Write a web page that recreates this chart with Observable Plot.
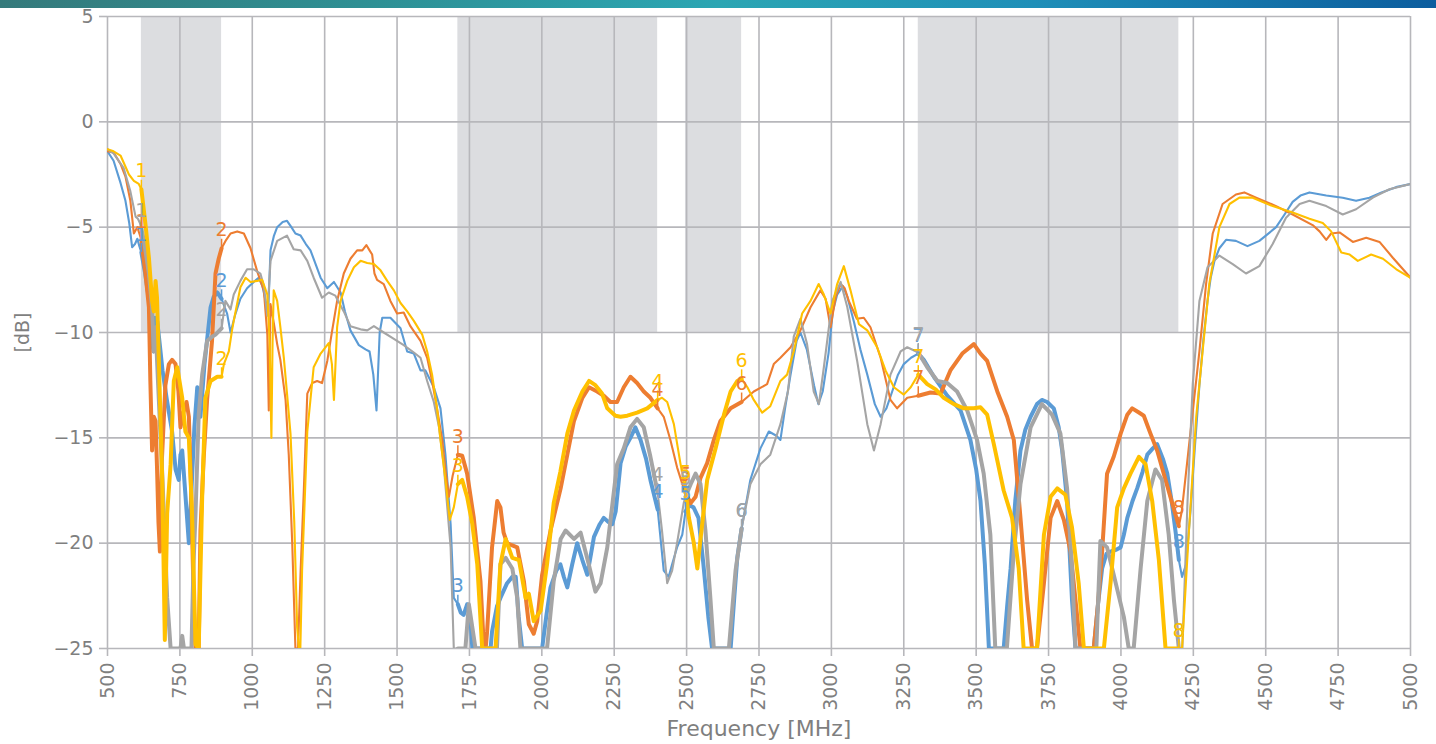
<!DOCTYPE html>
<html><head><meta charset="utf-8">
<script src="https://cdn.jsdelivr.net/npm/d3@7"></script>
<script src="https://cdn.jsdelivr.net/npm/@observablehq/plot@0.6"></script>
<style>
body{margin:0;background:#fff;}
#chart{position:absolute;left:0;top:0;}
#bar{position:absolute;left:0;top:0;width:1436px;height:8px;background:linear-gradient(90deg,#357a7b 0%,#2e8f93 25%,#2ba6b3 50%,#1f8fb8 72%,#0c5d9e 100%);}
</style>
</head><body>
<div id="chart"></div><div id="bar"></div>
<script>
// Frequency [MHz], level [dB]
const blue = [[500,-1.4],[521,-1.85],[545,-2.9],[562,-3.75],[575,-4.8],[585,-5.95],[595,-5.8],[603,-5.55],[610,-5.9],[617,-6.2],[630,-7.2],[645,-8.6],[652,-10.2],[659,-10.9],[664,-9.3],[672,-9.5],[680,-10.5],[690,-11.8],[705,-13.2],[723,-14.7],[735,-16.5],[746,-17.0],[752,-15.8],[758,-15.6],[768,-17.5],[781,-20.0],[790,-17.5],[800,-14.5],[810,-12.6],[821,-14.0],[835,-11.5],[856,-8.8],[867,-8.3],[879,-8.1],[894,-8.4],[913,-9.1],[925,-10.0],[940,-9.2],[959,-8.4],[982,-7.9],[1005,-7.6],[1022,-7.4],[1035,-7.8],[1046,-8.5],[1055,-9.0],[1063,-6.1],[1075,-5.4],[1086,-5.0],[1105,-4.75],[1120,-4.7],[1135,-5.0],[1149,-5.3],[1167,-5.4],[1185,-5.8],[1201,-6.1],[1220,-6.8],[1236,-7.4],[1259,-7.9],[1282,-7.6],[1305,-8.1],[1320,-9.0],[1339,-9.9],[1368,-10.6],[1391,-10.8],[1405,-10.9],[1418,-12.0],[1429,-13.7],[1440,-10.0],[1449,-9.3],[1477,-9.3],[1512,-9.8],[1535,-10.9],[1558,-11.0],[1581,-11.8],[1598,-11.8],[1627,-12.6],[1650,-13.6],[1667,-15.8],[1685,-19.1],[1696,-22.6],[1710,-22.9],[1720,-23.3],[1730,-23.4],[1742,-22.9],[1754,-23.7],[1760,-25],[1823,-25],[1828,-24.2],[1845,-23.0],[1857,-22.6],[1880,-21.9],[1898,-21.6],[1910,-21.6],[1920,-23.5],[1932,-25],[2001,-25],[2015,-23.5],[2030,-22.1],[2050,-21.3],[2064,-21.0],[2076,-21.6],[2088,-22.1],[2105,-21.0],[2122,-20.0],[2140,-20.8],[2157,-21.5],[2170,-20.5],[2180,-19.7],[2200,-19.1],[2214,-18.8],[2230,-19.0],[2243,-19.1],[2255,-18.5],[2272,-16.2],[2290,-15.4],[2306,-15.0],[2323,-14.5],[2341,-15.1],[2360,-16.0],[2375,-17.0],[2400,-18.4],[2421,-21.3],[2438,-21.6],[2450,-21.0],[2467,-20.2],[2485,-19.6],[2496,-18.5],[2510,-18.2],[2524,-18.3],[2541,-18.8],[2558,-21.0],[2575,-23.5],[2588,-25],[2652,-25],[2665,-22.5],[2675,-20.7],[2690,-19.3],[2720,-17.0],[2755,-15.5],[2784,-14.7],[2810,-14.9],[2824,-15.1],[2840,-13.6],[2859,-12.0],[2880,-10.4],[2893,-10.0],[2915,-10.8],[2940,-12.5],[2955,-13.4],[2970,-12.8],[2990,-11.0],[3005,-9.0],[3020,-8.2],[3040,-7.8],[3055,-8.3],[3078,-9.5],[3100,-10.8],[3124,-12.0],[3150,-13.4],[3170,-14.0],[3190,-13.6],[3210,-12.8],[3230,-12.0],[3250,-11.5],[3275,-11.2],[3300,-11.0],[3319,-11.3],[3354,-12.1],[3400,-13.0],[3446,-13.7],[3480,-15.1],[3500,-16.5],[3515,-18.0],[3530,-21.0],[3544,-25],[3595,-25],[3607,-23.0],[3619,-21.2],[3635,-18.0],[3653,-15.6],[3670,-14.6],[3688,-14.0],[3710,-13.4],[3727,-13.2],[3745,-13.3],[3768,-13.6],[3785,-14.5],[3797,-15.6],[3814,-18.0],[3831,-22.7],[3843,-25],[3906,-25],[3920,-23.0],[3935,-21.2],[3950,-20.5],[3964,-20.4],[3985,-20.3],[3999,-20.2],[4010,-19.6],[4022,-18.8],[4040,-18.0],[4056,-17.4],[4075,-16.6],[4091,-15.8],[4110,-15.5],[4125,-15.3],[4145,-16.0],[4160,-16.7],[4175,-18.0],[4190,-19.6],[4200,-20.8],[4211,-21.6],[4225,-21.0],[4240,-18.5],[4255,-15.5],[4271,-12.5],[4285,-10.3],[4299,-8.5],[4310,-7.4],[4323,-6.6],[4340,-6.0],[4363,-5.6],[4397,-5.65],[4437,-5.9],[4478,-5.65],[4536,-5.0],[4565,-4.4],[4593,-3.8],[4620,-3.5],[4651,-3.35],[4709,-3.5],[4766,-3.6],[4812,-3.75],[4858,-3.6],[4900,-3.35],[4950,-3.1],[5000,-2.95]];

const orange = [[500,-1.4],[521,-1.45],[545,-2.0],[562,-2.6],[579,-3.75],[591,-5.3],[603,-5.0],[610,-5.3],[617,-5.6],[631,-7.2],[643,-8.8],[648,-12.3],[654,-15.6],[660,-14.0],[666,-14.2],[671,-16.4],[676,-19.0],[681,-20.4],[688,-16.0],[700,-12.5],[712,-11.5],[723,-11.3],[735,-11.5],[745,-12.8],[752,-14.5],[762,-13.8],[773,-13.3],[781,-14.0],[790,-18.0],[798,-23.0],[804,-25],[815,-25],[821,-19.4],[832,-16.0],[844,-13.2],[861,-10.4],[873,-7.2],[884,-6.5],[894,-6.0],[910,-5.6],[925,-5.3],[948,-5.2],[971,-5.3],[994,-6.0],[1017,-7.1],[1040,-8.0],[1052,-10.1],[1057,-13.7],[1063,-8.65],[1075,-9.6],[1086,-10.55],[1097,-11.3],[1115,-13.2],[1126,-15.8],[1138,-20.0],[1149,-25],[1158,-25],[1167,-21.3],[1178,-17.5],[1190,-12.9],[1207,-12.4],[1224,-12.3],[1241,-12.4],[1259,-11.35],[1276,-9.9],[1293,-8.5],[1316,-7.2],[1339,-6.5],[1362,-6.1],[1380,-6.1],[1394,-5.85],[1405,-6.1],[1414,-6.3],[1422,-7.2],[1431,-7.5],[1454,-7.7],[1477,-8.5],[1500,-9.1],[1523,-9.05],[1546,-9.7],[1581,-10.4],[1604,-11.2],[1621,-12.3],[1638,-13.6],[1656,-15.1],[1668,-16.6],[1679,-17.8],[1692,-16.8],[1710,-15.8],[1725,-15.85],[1742,-16.7],[1765,-18.8],[1788,-21.8],[1800,-25],[1806,-25],[1811,-24.2],[1828,-20.2],[1846,-18.0],[1857,-18.3],[1868,-19.5],[1880,-20.0],[1898,-20.1],[1915,-20.2],[1938,-21.8],[1955,-23.85],[1972,-24.3],[1984,-23.7],[2001,-21.5],[2030,-19.4],[2065,-17.4],[2088,-15.8],[2111,-14.2],[2140,-13.1],[2163,-12.6],[2191,-12.8],[2214,-13.0],[2237,-13.3],[2260,-13.3],[2283,-12.6],[2306,-12.1],[2329,-12.4],[2352,-12.8],[2375,-13.1],[2400,-13.6],[2421,-14.0],[2444,-15.1],[2467,-16.4],[2490,-17.4],[2496,-17.6],[2514,-18.1],[2531,-17.8],[2548,-16.9],[2571,-16.2],[2594,-15.1],[2617,-14.2],[2652,-13.6],[2690,-13.3],[2732,-12.8],[2778,-12.45],[2801,-11.5],[2824,-11.2],[2859,-10.7],[2893,-9.9],[2928,-8.8],[2962,-8.0],[2980,-8.4],[2997,-9.75],[3015,-8.3],[3032,-7.7],[3046,-7.9],[3060,-8.5],[3088,-9.35],[3112,-9.3],[3135,-9.75],[3170,-11.2],[3204,-13.2],[3227,-13.6],[3262,-13.1],[3300,-13.0],[3342,-12.85],[3377,-12.9],[3411,-11.8],[3452,-11.0],[3492,-10.55],[3515,-11.0],[3538,-11.35],[3573,-12.8],[3607,-14.0],[3630,-15.1],[3653,-18.8],[3676,-22.7],[3693,-25],[3710,-25],[3734,-21.9],[3757,-18.8],[3780,-18.0],[3803,-18.9],[3826,-20.4],[3849,-23.5],[3860,-25],[3906,-25],[3920,-23.0],[3935,-20.4],[3952,-16.7],[3975,-15.9],[3999,-14.8],[4022,-13.9],[4039,-13.6],[4062,-13.8],[4079,-13.95],[4102,-14.8],[4125,-15.6],[4154,-17.0],[4177,-18.1],[4200,-19.2],[4210,-18.5],[4230,-16.0],[4250,-13.5],[4271,-10.9],[4294,-7.7],[4317,-5.3],[4351,-3.9],[4397,-3.45],[4426,-3.35],[4467,-3.6],[4536,-4.0],[4593,-4.4],[4662,-4.9],[4686,-5.2],[4709,-5.6],[4726,-5.3],[4755,-5.25],[4801,-5.7],[4847,-5.5],[4893,-5.7],[4939,-6.45],[5000,-7.4]];

const gray = [[500,-1.3],[521,-1.5],[556,-2.2],[579,-3.3],[597,-4.5],[605,-4.6],[612,-4.8],[617,-5.1],[626,-5.65],[643,-7.2],[654,-8.8],[660,-10.9],[666,-9.75],[675,-12.5],[690,-17.0],[706,-22.6],[718,-25],[752,-25],[758,-24.4],[764,-25],[790,-25],[797,-21.0],[804,-18.6],[815,-13.9],[827,-12.0],[844,-10.4],[861,-10.2],[873,-10.1],[894,-9.8],[907,-8.5],[925,-8.9],[936,-8.2],[959,-7.55],[982,-7.0],[1005,-7.0],[1028,-7.2],[1040,-7.8],[1052,-9.2],[1063,-6.6],[1086,-5.65],[1120,-5.4],[1143,-6.05],[1167,-6.1],[1190,-6.6],[1212,-7.4],[1241,-8.35],[1264,-8.1],[1287,-8.25],[1316,-9.0],[1339,-9.7],[1374,-9.85],[1397,-9.9],[1420,-9.7],[1454,-10.0],[1489,-10.3],[1523,-10.6],[1558,-10.95],[1581,-11.2],[1604,-12.3],[1627,-13.3],[1645,-14.5],[1661,-16.25],[1685,-20.2],[1696,-25],[1710,-25],[1736,-25],[1748,-22.9],[1760,-24.0],[1771,-25],[1845,-25],[1857,-21.0],[1875,-20.7],[1898,-21.2],[1915,-22.6],[1926,-25],[2018,-25],[2041,-21.8],[2065,-19.8],[2082,-19.4],[2111,-19.8],[2134,-19.5],[2162,-21.0],[2185,-22.3],[2203,-21.9],[2226,-20.2],[2245,-18.0],[2260,-16.25],[2283,-15.5],[2306,-14.5],[2329,-14.1],[2352,-14.5],[2375,-15.9],[2400,-17.6],[2415,-19.4],[2433,-21.9],[2450,-21.3],[2467,-20.0],[2490,-18.1],[2496,-17.8],[2514,-17.2],[2531,-16.7],[2548,-17.2],[2565,-19.4],[2582,-22.6],[2594,-25],[2646,-25],[2669,-21.3],[2690,-19.3],[2720,-17.2],[2755,-16.25],[2789,-15.8],[2824,-14.35],[2850,-12.8],[2870,-10.2],[2893,-9.35],[2916,-10.55],[2939,-12.8],[2957,-13.4],[2974,-11.65],[3003,-8.5],[3032,-7.6],[3055,-8.8],[3089,-11.35],[3124,-14.35],[3147,-15.6],[3170,-14.35],[3204,-12.0],[3239,-10.9],[3262,-10.7],[3300,-10.95],[3331,-11.65],[3366,-12.3],[3400,-12.4],[3434,-12.8],[3469,-13.7],[3503,-15.1],[3526,-16.7],[3549,-19.6],[3566,-25],[3606,-25],[3630,-20.4],[3653,-17.2],[3688,-14.5],[3727,-13.4],[3762,-13.9],[3791,-14.8],[3814,-17.4],[3831,-21.2],[3843,-25],[3915,-25],[3929,-19.9],[3952,-20.2],[3975,-21.5],[4010,-23.5],[4027,-25],[4044,-25],[4068,-21.2],[4091,-18.0],[4119,-16.5],[4142,-17.0],[4165,-19.6],[4183,-22.7],[4200,-25],[4212,-25],[4230,-18.0],[4248,-12.45],[4271,-8.5],[4299,-6.9],[4340,-6.35],[4386,-6.75],[4432,-7.2],[4478,-6.85],[4524,-5.8],[4570,-4.55],[4617,-3.9],[4651,-3.75],[4709,-4.0],[4766,-4.4],[4812,-4.15],[4870,-3.6],[4927,-3.2],[5000,-2.95]];

const yellow = [[500,-1.3],[521,-1.4],[545,-1.6],[574,-2.5],[591,-2.8],[608,-2.95],[617,-3.2],[631,-4.85],[643,-6.45],[654,-8.5],[660,-9.0],[666,-7.55],[671,-8.35],[677,-11.2],[689,-17.0],[698,-24.6],[706,-18.6],[718,-16.25],[729,-12.3],[741,-11.65],[758,-13.1],[769,-14.7],[781,-15.0],[792,-18.6],[804,-24.8],[815,-25],[827,-17.8],[838,-13.1],[856,-12.3],[879,-12.1],[894,-12.1],[902,-11.5],[919,-10.9],[930,-9.9],[936,-9.45],[959,-7.85],[977,-7.4],[994,-7.6],[1017,-7.55],[1034,-7.5],[1052,-8.2],[1060,-10.5],[1066,-15.0],[1070,-10.5],[1074,-8.0],[1086,-8.5],[1097,-9.75],[1109,-11.2],[1120,-12.9],[1132,-14.8],[1145,-19.0],[1155,-24.0],[1161,-25],[1166,-25],[1172,-21.3],[1190,-14.7],[1212,-11.65],[1236,-11.0],[1264,-10.5],[1275,-11.5],[1282,-13.2],[1293,-9.75],[1305,-8.5],[1328,-7.55],[1351,-6.9],[1374,-6.6],[1397,-6.7],[1420,-6.75],[1443,-7.05],[1466,-7.55],[1489,-8.0],[1512,-8.6],[1535,-9.0],[1558,-9.45],[1587,-10.1],[1604,-10.9],[1621,-12.0],[1638,-13.6],[1650,-15.1],[1667,-17.0],[1682,-18.9],[1696,-18.3],[1710,-17.2],[1725,-17.0],[1742,-17.8],[1760,-19.1],[1777,-21.0],[1794,-25],[1840,-25],[1857,-21.0],[1875,-19.8],[1898,-20.7],[1921,-20.8],[1944,-22.6],[1955,-22.4],[1972,-23.7],[1996,-23.2],[2018,-21.0],[2041,-18.1],[2064,-16.6],[2088,-14.8],[2111,-13.7],[2140,-12.8],[2163,-12.3],[2185,-12.5],[2208,-12.9],[2226,-13.6],[2254,-13.95],[2272,-14.0],[2295,-13.95],[2329,-13.8],[2364,-13.6],[2400,-13.2],[2415,-13.1],[2433,-13.3],[2456,-14.35],[2479,-16.25],[2496,-17.5],[2508,-18.8],[2525,-20.0],[2537,-21.2],[2548,-19.8],[2571,-17.0],[2600,-15.5],[2629,-13.9],[2652,-12.8],[2675,-12.3],[2690,-12.2],[2710,-12.6],[2732,-13.2],[2761,-13.8],[2789,-13.5],[2824,-12.3],[2847,-12.0],[2870,-10.9],[2899,-9.1],[2928,-8.5],[2956,-7.7],[2974,-8.2],[2997,-9.1],[3020,-7.7],[3043,-6.85],[3066,-8.0],[3095,-9.6],[3124,-9.9],[3158,-10.7],[3187,-11.8],[3216,-12.6],[3250,-12.95],[3274,-12.6],[3300,-12.0],[3331,-12.45],[3360,-12.7],[3388,-13.1],[3423,-13.4],[3457,-13.6],[3492,-13.6],[3515,-13.55],[3538,-13.9],[3561,-15.3],[3595,-17.5],[3624,-18.8],[3647,-21.2],[3664,-25],[3710,-25],[3734,-19.6],[3757,-17.8],[3780,-17.4],[3808,-17.7],[3831,-19.25],[3854,-21.9],[3872,-25],[3941,-25],[3964,-21.9],[3987,-18.3],[4010,-17.4],[4033,-16.7],[4062,-15.9],[4085,-16.25],[4108,-18.0],[4131,-20.8],[4154,-25],[4200,-25],[4211,-25],[4234,-19.6],[4260,-14.0],[4282,-10.9],[4305,-7.7],[4340,-5.0],[4375,-3.9],[4409,-3.6],[4455,-3.6],[4524,-4.0],[4593,-4.3],[4651,-4.6],[4697,-4.8],[4726,-5.2],[4761,-6.2],[4790,-6.3],[4818,-6.6],[4864,-6.3],[4905,-6.5],[4951,-7.0],[5000,-7.4]];

// Shaded frequency bands (x from-to) reaching from 5 dB down to -10 dB
const bands = [[617,894],[1710,2400],[2496,2690],[3300,4200]];
const bandTop = 5, bandBottom = -10;
// Band-edge markers and their numbers
const edgeFreqs = [617,894,1710,2400,2496,2690,3300,4200];
const edgeNames = ["1","2","3","4","5","6","7","8"];
const xTicks = [500,750,1000,1250,1500,1750,2000,2250,2500,2750,3000,3250,3500,3750,4000,4250,4500,4750,5000];
const yTicks = [5,0,-5,-10,-15,-20,-25];

const series = [
  {name:"A", color:"#5b9bd5", data: blue},
  {name:"B", color:"#ed7d31", data: orange},
  {name:"C", color:"#a5a5a5", data: gray},
  {name:"D", color:"#ffc000", data: yellow}
];
const hiddenLabels = new Set(["C3"]);

const rows = series.flatMap(s => s.data.map(([f, v]) => ({s: s.name, color: s.color, f, v})));
const bandOf = f => bands.findIndex(([a, b]) => f >= a && f <= b);
const thick = rows.filter(r => bandOf(r.f) >= 0).map(r => ({...r, band: bandOf(r.f)}));
const labels = series.flatMap(s => edgeFreqs.map((f, i) => {
  const p = s.data.find(d => d[0] === f);
  return {s: s.name, color: s.color, f, v: p[1], t: edgeNames[i]};
})).filter(d => !hiddenLabels.has(d.s + d.t));

const fmt = d => d < 0 ? "\u2212" + Math.abs(d) : String(d);
const gridColor = "#b7b7bb";
const textColor = "#7f7f7f";

const marks = [
  Plot.rect(bands, {x1: d => d[0], x2: d => d[1], y1: bandBottom, y2: bandTop, fill: "#dcdde0"}),
  Plot.ruleX(xTicks, {stroke: gridColor, strokeWidth: 1.6}),
  Plot.ruleY(yTicks, {stroke: gridColor, strokeWidth: 1.6}),
  Plot.axisX({ticks: xTicks, tickSize: 8, tickPadding: 6, tickRotate: -90, tickFormat: d => String(d), label: null, stroke: gridColor, strokeWidth: 1.6, fill: textColor, fontSize: 19}),
  Plot.axisY({ticks: yTicks, tickSize: 8, tickPadding: 6, tickFormat: fmt, label: null, stroke: gridColor, strokeWidth: 1.6, fill: textColor, fontSize: 19}),
];
for (const s of series) {
  marks.push(Plot.line(rows.filter(r => r.s === s.name), {x: "f", y: "v", stroke: s.color, strokeWidth: 2.1, strokeLinejoin: "round", clip: true}));
}
for (const s of series) {
  marks.push(Plot.line(thick.filter(r => r.s === s.name), {x: "f", y: "v", z: "band", stroke: s.color, strokeWidth: 4, strokeLinejoin: "round", clip: true}));
}
// short leader from each band-edge point up to its number
marks.push(Plot.ruleX(labels, {x: "f", y1: "v", y2: "v", stroke: "color", strokeWidth: 1.5, insetTop: -9, insetBottom: 0}));
marks.push(Plot.text(labels, {x: "f", y: "v", text: "t", fill: "color", fontSize: 19, dy: -18}));
marks.push(Plot.text(["Frequency [MHz]"], {frameAnchor: "bottom", dy: 87, text: d => d, fill: textColor, fontSize: 22}));
marks.push(Plot.text(["[dB]"], {frameAnchor: "left", dx: -85, rotate: -90, textAnchor: "middle", text: d => d, fill: textColor, fontSize: 19}));

const chart = Plot.plot({
  width: 1436, height: 744,
  marginTop: 16, marginBottom: 96, marginLeft: 107, marginRight: 26,
  x: {domain: [500, 5000]},
  y: {domain: [-25, 5]},
  style: {fontFamily: "DejaVu Sans", background: "#fff", color: textColor},
  marks
});
document.getElementById("chart").append(chart);
</script>
</body></html>
